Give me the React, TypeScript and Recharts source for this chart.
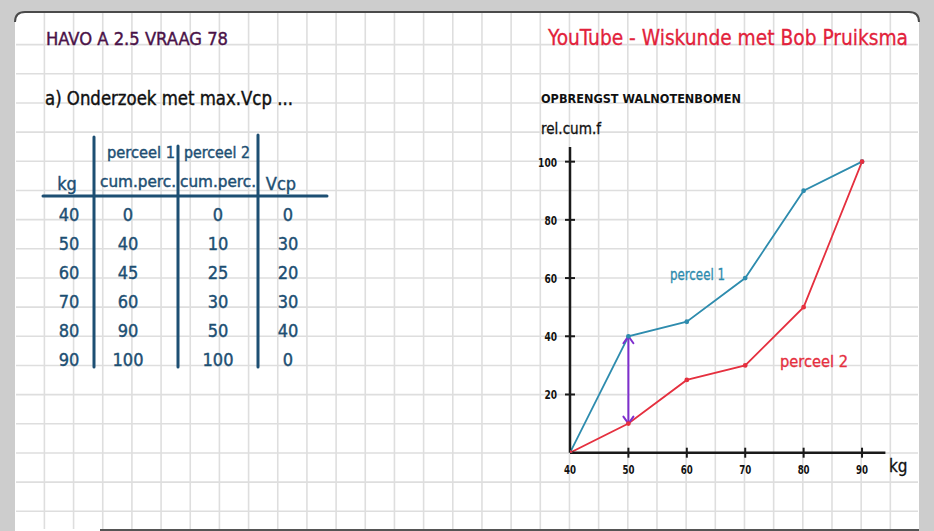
import { LineChart, Line, XAxis, YAxis, ReferenceLine } from 'recharts';

// values read from the whiteboard
const kgValues = [40, 50, 60, 70, 80, 90];
const perceel1 = [0, 40, 45, 60, 90, 100];
const perceel2 = [0, 10, 25, 30, 50, 100];
const vcp = [0, 30, 20, 30, 40, 0];
const xTicks = [40, 50, 60, 70, 80, 90];
const yTicks = [20, 40, 60, 80, 100];
const maxGap = { kg: 50, top: 40, bottom: 10 };

const HAND = '"DejaVu Sans Condensed", "Liberation Sans Narrow", "DejaVu Sans", sans-serif';
const BLUE = '#2e8cae';
const RED = '#e5303f';
const PURPLE = '#7f2fce';
const INK = '#1d4f73';

const chartData = kgValues.map((kg, i) => ({ kg, p1: perceel1[i], p2: perceel2[i] }));

function XTick({ x, y, payload }: any) {
    return (
        <g>
            {payload.value !== 40 && (
                <line x1={x} x2={x} y1={y - 5} y2={y + 5} stroke="#1a1a1a" strokeWidth={2} />
            )}
            <text x={x} y={y + 21} textAnchor="middle" fontSize={13} fontWeight="bold" fill="#111" fontFamily={HAND}
                textLength={12} lengthAdjust="spacingAndGlyphs">
                {payload.value}
            </text>
        </g>
    );
}

function YTick({ x, y, payload }: any) {
    return (
        <g>
            <line x1={x - 5} x2={x + 5} y1={y} y2={y} stroke="#1a1a1a" strokeWidth={2} />
            <text x={x - 13} y={y + 5} textAnchor="end" fontSize={13} fontWeight="bold" fill="#111" fontFamily={HAND}
                textLength={String(payload.value).length * 6.3} lengthAdjust="spacingAndGlyphs">
                {payload.value}
            </text>
        </g>
    );
}

// double headed arrow between the two curves
function GapArrow(props: any) {
    const { x1, y1, x2, y2 } = props;
    const h = 7;
    return (
        <g stroke={PURPLE} strokeWidth={2} fill="none" strokeLinecap="round">
            <line x1={x1} y1={y1} x2={x2} y2={y2} />
            <polyline points={`${x1 - 5},${y1 + h} ${x1},${y1} ${x1 + 5},${y1 + h}`} />
            <polyline points={`${x2 - 5},${y2 - h} ${x2},${y2} ${x2 + 5},${y2 - h}`} />
        </g>
    );
}

function Board() {
    const vLines = [];
    for (let k = 0; k < 31; k++) {
        const x = 44.4 + 29.17 * k;
        if (x < 918) vLines.push(<line key={'v' + k} x1={x} x2={x} y1={13} y2={529} />);
    }
    const hLines = [];
    for (let k = 0; k < 17; k++) {
        const y = 44.6 + 29.17 * k;
        hLines.push(<line key={'h' + k} x1={16} x2={918} y1={y} y2={y} />);
    }
    const colX = [69, 128, 218, 288];
    const rowY = (i: number) => 221 + i * 29;

    return (
        <svg width={934} height={531} style={{ position: 'absolute', left: 0, top: 0 }}>
            <rect x={0} y={0} width={934} height={531} fill="#cdcdcd" />
            <rect x={15} y={12} width={904} height={530} rx={8} fill="#fff" />
            <path d="M15,22 Q15,12 25,12 L909,12 Q919,12 919,22" fill="none" stroke="#4a4a4a" strokeWidth={2} />
            <line x1={100} x2={919} y1={530} y2={530} stroke="#555" strokeWidth={2} />
            <g stroke="#dedede" strokeWidth={1.6}>
                {vLines}
                {hLines}
            </g>

            <text x={46} y={45} fontSize={18} fill="#4a1248" stroke="#4a1248" strokeWidth={0.4} fontFamily={HAND}
                textLength={182} lengthAdjust="spacingAndGlyphs">
                HAVO A 2.5 VRAAG 78
            </text>
            <text x={548} y={45} fontSize={22} fill="#e2223b" stroke="#e2223b" strokeWidth={0.3} fontFamily={HAND}
                textLength={360} lengthAdjust="spacingAndGlyphs">
                YouTube - Wiskunde met Bob Pruiksma
            </text>
            <text x={45} y={105} fontSize={20} fill="#111" stroke="#111" strokeWidth={0.4} fontFamily={HAND}
                textLength={248} lengthAdjust="spacingAndGlyphs">
                a) Onderzoek met max.Vcp ...
            </text>

            {/* table */}
            <g stroke={INK} strokeWidth={3} strokeLinecap="round">
                <line x1={43} x2={327} y1={196} y2={196} />
                <line x1={94} x2={94} y1={137} y2={367} />
                <line x1={178} x2={178} y1={146} y2={367} />
                <line x1={258} x2={258} y1={135} y2={367} />
            </g>
            <g fill={INK} stroke={INK} strokeWidth={0.4} fontFamily={HAND} textAnchor="middle">
                <text x={67} y={190} fontSize={18}>kg</text>
                <text x={141} y={158} fontSize={15} textLength={68} lengthAdjust="spacingAndGlyphs">perceel 1</text>
                <text x={138} y={187} fontSize={15} textLength={76} lengthAdjust="spacingAndGlyphs">cum.perc.</text>
                <text x={217} y={158} fontSize={15} textLength={66} lengthAdjust="spacingAndGlyphs">perceel 2</text>
                <text x={218} y={187} fontSize={15} textLength={76} lengthAdjust="spacingAndGlyphs">cum.perc.</text>
                <text x={281} y={190} fontSize={18}>Vcp</text>
                {kgValues.map((kg, i) => (
                    <g key={kg} fontSize={18}>
                        <text x={colX[0]} y={rowY(i)}>{kg}</text>
                        <text x={colX[1]} y={rowY(i)}>{perceel1[i]}</text>
                        <text x={colX[2]} y={rowY(i)}>{perceel2[i]}</text>
                        <text x={colX[3]} y={rowY(i)}>{vcp[i]}</text>
                    </g>
                ))}
            </g>

            {/* chart annotations */}
            <text x={541} y={103} fontSize={11.5} fontWeight="bold" fill="#111" fontFamily={HAND} textLength={200} lengthAdjust="spacingAndGlyphs">
                OPBRENGST WALNOTENBOMEN
            </text>
            <text x={541} y={134} fontSize={16} fill="#111" stroke="#111" strokeWidth={0.3} fontFamily={HAND}
                textLength={60} lengthAdjust="spacingAndGlyphs">
                rel.cum.f
            </text>
            <text x={670} y={280} fontSize={15} fill={BLUE} stroke={BLUE} strokeWidth={0.3} fontFamily={HAND}
                textLength={55} lengthAdjust="spacingAndGlyphs">
                perceel 1
            </text>
            <text x={780} y={367} fontSize={15} fill={RED} stroke={RED} strokeWidth={0.3} fontFamily={HAND}
                textLength={68} lengthAdjust="spacingAndGlyphs">
                perceel 2
            </text>
            <text x={889} y={472} fontSize={17} fill="#111" stroke="#111" strokeWidth={0.3} fontFamily={HAND}>kg</text>
        </svg>
    );
}

export default function App() {
    return (
        <div style={{ position: 'absolute', left: 0, top: 0, width: 934, height: 531, overflow: 'hidden' }}>
            <Board />
            <div style={{ position: 'absolute', left: 500, top: 130 }}>
                <LineChart
                    width={420}
                    height={360}
                    data={chartData}
                    margin={{ top: 17.1, right: 34.6, bottom: 7.3, left: 30 }}
                >
                    <XAxis
                        dataKey="kg"
                        type="number"
                        domain={[40, 94]}
                        ticks={xTicks}
                        height={30}
                        tickSize={0}
                        tickMargin={0}
                        tickLine={false}
                        axisLine={{ stroke: '#1a1a1a', strokeWidth: 2.5 }}
                        tick={<XTick />}
                        allowDataOverflow
                    />
                    <YAxis
                        type="number"
                        domain={[0, 105]}
                        ticks={yTicks}
                        width={40}
                        tickSize={0}
                        tickMargin={0}
                        tickLine={false}
                        axisLine={{ stroke: '#1a1a1a', strokeWidth: 2.5 }}
                        tick={<YTick />}
                        allowDataOverflow
                    />
                    <Line
                        dataKey="p1"
                        stroke={BLUE}
                        strokeWidth={1.8}
                        dot={{ r: 1.5, fill: BLUE, stroke: BLUE }}
                        isAnimationActive={false}
                    />
                    <Line
                        dataKey="p2"
                        stroke={RED}
                        strokeWidth={1.8}
                        dot={{ r: 1.5, fill: RED, stroke: RED }}
                        isAnimationActive={false}
                    />
                    <ReferenceLine
                        segment={[{ x: maxGap.kg, y: maxGap.top }, { x: maxGap.kg, y: maxGap.bottom }]}
                        shape={GapArrow}
                        ifOverflow="visible"
                    />
                </LineChart>
            </div>
        </div>
    );
}
